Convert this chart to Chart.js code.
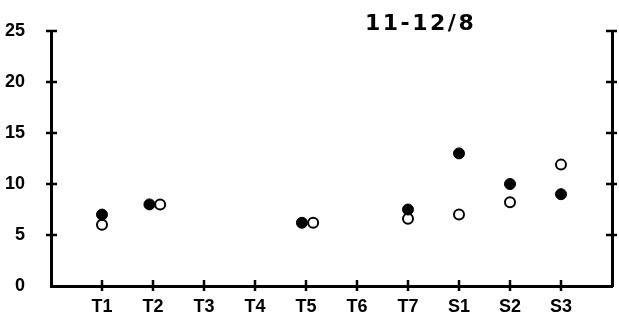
<!DOCTYPE html>
<html>
<head>
<meta charset="utf-8">
<script src="https://cdn.jsdelivr.net/npm/chart.js@4.4.0/dist/chart.umd.min.js"></script>
<style>
  html, body { margin: 0; padding: 0; background: #fff; }
  #wrap { width: 619px; height: 324px; }
</style>
</head>
<body>
<div id="wrap"><canvas id="myChart" width="619" height="324"></canvas></div>
<script>
// categories along the bottom
var categories = ['T1', 'T2', 'T3', 'T4', 'T5', 'T6', 'T7', 'S1', 'S2', 'S3'];
// filled circles and open circles
var filledValues = [7, 8, null, null, 6.2, null, 7.5, 13, 10, 9];
var openValues   = [6, 8, null, null, 6.2, null, 6.6, 7, 8.2, 11.9];
// small sideways shift where both dots share a value
var filledShift = [0, -0.07, 0, 0, -0.08, 0, 0, 0, 0, 0];
var openShift   = [0, 0.14, 0, 0, 0.14, 0, 0, 0, 0, 0];
var yTickValues = [0, 5, 10, 15, 20, 25];
var rightTickValues = [5, 10, 15, 20, 25];
var titleText = '11-12/8';

function toPoints(vals, shift) {
  var pts = [];
  vals.forEach(function(v, i){
    if (v !== null) pts.push({ x: i + 1 + shift[i], y: v });
  });
  return pts;
}

var tickFont = { family: 'Liberation Sans', size: 18, weight: 'bold' };

function noPad(scale) {
  scale.paddingTop = 0; scale.paddingBottom = 0;
  scale.paddingLeft = 0; scale.paddingRight = 0;
}

// draws the crossing tick marks and the title
var axisMarks = {
  id: 'axisMarks',
  afterDraw: function(chart){
    var ctx = chart.ctx;
    var xs = chart.scales.x, ys = chart.scales.y;
    var area = chart.chartArea;
    ctx.save();
    ctx.strokeStyle = '#000';
    ctx.lineWidth = 2.5;
    ctx.beginPath();
    yTickValues.forEach(function(v){
      var py = ys.getPixelForValue(v);
      if (v > 0) { ctx.moveTo(area.left - 5, py); ctx.lineTo(area.left + 6, py); }
    });
    rightTickValues.forEach(function(v){
      var py = ys.getPixelForValue(v);
      ctx.moveTo(area.right - 6, py); ctx.lineTo(area.right + 5, py);
    });
    categories.forEach(function(c, i){
      var px = xs.getPixelForValue(i + 1);
      ctx.moveTo(px, area.bottom - 6); ctx.lineTo(px, area.bottom + 5);
    });
    ctx.stroke();

    ctx.fillStyle = '#000';
    ctx.font = 'bold 22px "DejaVu Sans"';
    ctx.letterSpacing = '2.5px';
    ctx.textAlign = 'left';
    ctx.textBaseline = 'alphabetic';
    ctx.fillText(titleText, 365, 30);
    ctx.restore();
  }
};

var ctx = document.getElementById('myChart').getContext('2d');
var chart = new Chart(ctx, {
  type: 'scatter',
  data: {
    datasets: [{
      label: 'filled',
      data: toPoints(filledValues, filledShift),
      pointStyle: 'circle',
      pointRadius: 5.5,
      backgroundColor: '#000',
      borderColor: '#000',
      borderWidth: 1
    }, {
      label: 'open',
      data: toPoints(openValues, openShift),
      pointStyle: 'circle',
      pointRadius: 5,
      backgroundColor: '#fff',
      borderColor: '#000',
      borderWidth: 2
    }]
  },
  options: {
    responsive: false,
    animation: false,
    events: [],
    layout: { padding: { top: 31, left: 0, right: 0, bottom: 0 } },
    plugins: { legend: { display: false }, tooltip: { enabled: false }, title: { display: false } },
    scales: {
      x: {
        type: 'linear',
        min: 0,
        max: 11,
        afterBuildTicks: function(scale){
          scale.ticks = categories.map(function(c, i){ return { value: i + 1 }; });
        },
        afterFit: function(scale){ scale.height = 38; noPad(scale); },
        ticks: {
          autoSkip: false,
          maxRotation: 0,
          padding: 10,
          color: '#000',
          font: tickFont,
          callback: function(v){ return categories[v - 1]; }
        },
        grid: { display: false, drawTicks: false },
        border: { display: true, color: '#000', width: 3 }
      },
      y: {
        position: 'left',
        min: 0,
        max: 25,
        afterBuildTicks: function(scale){
          scale.ticks = yTickValues.map(function(v){ return { value: v }; });
        },
        afterFit: function(scale){ scale.width = 51; noPad(scale); },
        ticks: { padding: 26, color: '#000', font: tickFont },
        grid: { display: false, drawTicks: false },
        border: { display: true, color: '#000', width: 3 }
      },
      y2: {
        position: 'right',
        min: 0,
        max: 25,
        afterFit: function(scale){ scale.width = 7; noPad(scale); },
        ticks: { display: false },
        grid: { display: false, drawTicks: false },
        border: { display: true, color: '#000', width: 3 }
      }
    }
  },
  plugins: [axisMarks]
});
</script>
</body>
</html>
